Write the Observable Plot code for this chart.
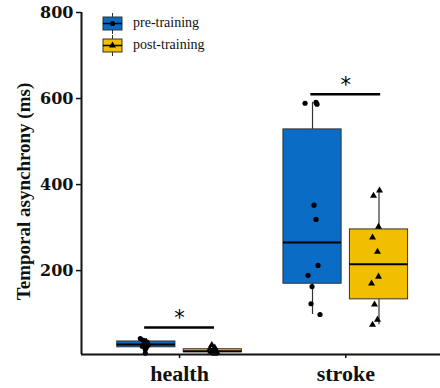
<!DOCTYPE html>
<html><head><meta charset="utf-8">
<script src="https://cdn.jsdelivr.net/npm/d3@7"></script>
<script src="https://cdn.jsdelivr.net/npm/@observablehq/plot@0.6"></script>
<style>
body{margin:0;background:#fff;color:#111;}
#wrap{position:relative;width:440px;height:388px;}
#legend{position:absolute;left:0;top:0;}
.chart g[aria-label="y-axis tick label"]{font-family:"DejaVu Serif";font-weight:bold;font-size:16px;}
.chart g[aria-label="x-axis tick label"]{font-family:"Liberation Serif";font-weight:bold;font-size:22px;}
.chart g[aria-label="y-axis label"]{font-family:"Liberation Serif";font-weight:bold;font-size:19px;}
</style></head><body><div id="wrap"></div>
<script>
// ---- data ----
const groups = ["health", "stroke"];
const phases = ["pre-training", "post-training"];
const colors = ["#0b6cc6", "#f0c000"];
const yTicks = [200, 400, 600, 800];

const healthPre = [42, 38, 36, 33, 30, 27, 24, 21, 17, 8];
const healthPreJitter = [-0.036, -0.018, -0.006, 0.006, -0.012, 0.012, -0.024, 0.0, -0.006, -0.006];
const healthPost = [27, 21, 18, 15, 13, 12, 11, 10, 9, 7];
const healthPostJitter = [-0.006, 0.012, -0.018, 0.018, 0.0, -0.012, 0.024, 0.006, -0.006, 0.012];
const strokePre = [591, 589, 587, 352, 319, 212, 189, 163, 123, 98];
const strokePreJitter = [0.021, -0.045, 0.027, 0.009, 0.021, 0.033, -0.027, -0.003, -0.009, 0.045];
const strokePost = [386, 374, 302, 277, 244, 186, 170, 121, 86, 74];
const strokePostJitter = [0.003, -0.033, -0.003, -0.039, -0.009, -0.003, -0.045, -0.027, -0.009, -0.039];

const sigGroups = ["health", "stroke"];
const sigY = [68, 610];
const yLabel = "Temporal asynchrony (ms)";

// ---- scale settings ----
const xDomain = [0.41, 2.57];
const yDomain = [5, 800];
const dodge = 0.2, halfBox = 0.175, sigHalf = 0.21;

const series = [
  {group: "health", phase: "pre-training", values: healthPre, jitter: healthPreJitter},
  {group: "health", phase: "post-training", values: healthPost, jitter: healthPostJitter},
  {group: "stroke", phase: "pre-training", values: strokePre, jitter: strokePreJitter},
  {group: "stroke", phase: "post-training", values: strokePost, jitter: strokePostJitter}
];
const center = s => groups.indexOf(s.group) + 1 + (s.phase === phases[0] ? -dodge : dodge);

const points = [];
const stats = series.map(s => {
  const cx = center(s);
  s.values.forEach((v, i) => points.push({phase: s.phase, x: cx + s.jitter[i], value: v}));
  const sorted = s.values.slice().sort(d3.ascending);
  const q1 = d3.quantile(sorted, 0.25), median = d3.quantile(sorted, 0.5), q3 = d3.quantile(sorted, 0.75);
  const iqr = q3 - q1;
  const min = d3.min(sorted.filter(v => v >= q1 - 1.5 * iqr));
  const max = d3.max(sorted.filter(v => v <= q3 + 1.5 * iqr));
  return {phase: s.phase, cx, q1, median, q3, min, max};
});
const sig = sigGroups.map((g, i) => ({x: groups.indexOf(g) + 1, y: sigY[i]}));

const chart = Plot.plot({
  className: "chart",
  width: 440, height: 388,
  marginLeft: 81, marginRight: 0, marginTop: 12, marginBottom: 34,
  style: {fontFamily: "Liberation Serif", color: "#111"},
  x: {domain: xDomain, axis: null},
  y: {domain: yDomain, axis: null},
  color: {domain: phases, range: colors, legend: false},
  symbol: {domain: phases, range: ["circle", "triangle"], legend: false},
  marks: [
    Plot.ruleX(stats, {x: "cx", y1: "min", y2: "q1", stroke: "#333", strokeWidth: 1.2}),
    Plot.ruleX(stats, {x: "cx", y1: "q3", y2: "max", stroke: "#333", strokeWidth: 1.2}),
    Plot.rect(stats, {x1: d => d.cx - halfBox, x2: d => d.cx + halfBox, y1: "q1", y2: "q3", fill: "phase", stroke: "#333", strokeWidth: 1}),
    Plot.ruleY(stats, {y: "median", x1: d => d.cx - halfBox, x2: d => d.cx + halfBox, stroke: "#000", strokeWidth: 2}),
    Plot.dot(points, {x: "x", y: "value", symbol: "phase", fill: "#000", r: 2.6}),
    Plot.ruleY(sig, {y: "y", x1: d => d.x - sigHalf, x2: d => d.x + sigHalf, stroke: "#000", strokeWidth: 2.5}),
    Plot.text(sig, {x: "x", y: "y", text: () => "*", dy: -9, fontSize: 21, fontFamily: "DejaVu Sans", fill: "#000"}),
    Plot.axisY({ticks: yTicks, tickSize: 5, tickPadding: 3, strokeWidth: 1.5, label: yLabel, labelArrow: "none", labelAnchor: "center", labelOffset: 65}),
    Plot.axisX({ticks: [1, 2], tickFormat: i => groups[i - 1], tickSize: 4, tickPadding: 7, strokeWidth: 1.5, label: null}),
    Plot.ruleX([xDomain[0]], {stroke: "#111", strokeWidth: 2}),
    Plot.ruleY([yDomain[0]], {stroke: "#111", strokeWidth: 2})
  ]
});
const wrap = document.getElementById("wrap");
wrap.appendChild(chart);
// strip any arrow glyph Plot may add, and nudge the label down slightly as in the reference
d3.select(chart).selectAll('g[aria-label="y-axis label"] text').text(yLabel)
  .attr("transform", function() {
    const t = this.getAttribute("transform") || "";
    return t.replace(/translate\(([-\d.]+),\s*([-\d.]+)\)/, (m, x, y) => `translate(${x},${+y + 8})`);
  });

// ---- legend ----
const lg = d3.select(wrap).append("svg").attr("id", "legend").attr("width", 260).attr("height", 60);
phases.forEach((p, i) => {
  const y0 = 17 + i * 22;
  const g = lg.append("g");
  g.append("line").attr("x1", 112.5).attr("x2", 112.5).attr("y1", y0 - 4).attr("y2", y0 + 17).attr("stroke", "#333");
  g.append("rect").attr("x", 103).attr("y", y0).attr("width", 19).attr("height", 13).attr("fill", colors[i]).attr("stroke", "#333");
  g.append("line").attr("x1", 103).attr("x2", 122).attr("y1", y0 + 6.5).attr("y2", y0 + 6.5).attr("stroke", "#000").attr("stroke-width", 1.5);
  g.append("path").attr("transform", `translate(112.5,${y0 + 6.5})`)
    .attr("d", d3.symbol(i === 0 ? d3.symbolCircle : d3.symbolTriangle, 21)()).attr("fill", "#000");
  g.append("text").attr("x", 133).attr("y", y0 + 10).attr("font-family", "Liberation Serif").attr("font-size", 14).attr("fill", "#111").text(p);
});
</script>
</body></html>
